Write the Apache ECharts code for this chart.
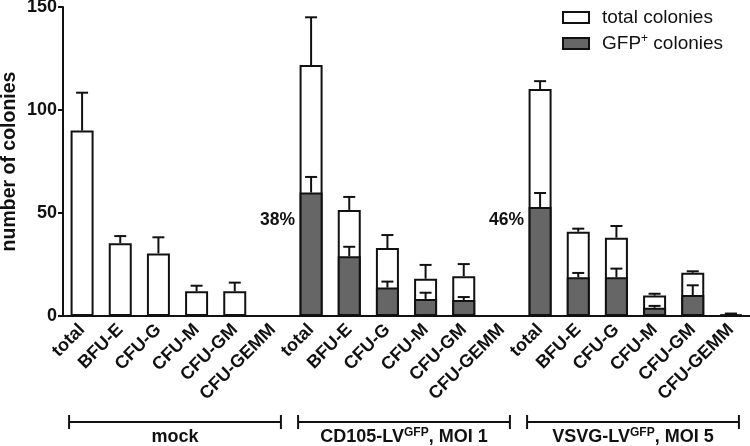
<!DOCTYPE html>
<html>
<head>
<meta charset="utf-8">
<script src="https://cdn.jsdelivr.net/npm/echarts@6/dist/echarts.min.js"></script>
<style>
html,body{margin:0;padding:0;background:#fff;}
#chart{width:750px;height:446px;}
</style>
</head>
<body>
<div id="chart"></div>
<script>
// ---- data ----
const groups = [
  { name: 'mock', sup: '', tail: '' },
  { name: 'CD105-LV', sup: 'GFP', tail: ', MOI 1' },
  { name: 'VSVG-LV', sup: 'GFP', tail: ', MOI 5' }
];
const colonyTypes = ['total', 'BFU-E', 'CFU-G', 'CFU-M', 'CFU-GM', 'CFU-GEMM'];
const totalMean = [90, 35.3, 30.4, 12, 12, 0,   121.8, 51.5, 33, 18.1, 19.3, 0,   110.2, 40.9, 38, 9.9, 21, 0.8];
const totalErr  = [18.4, 3.5, 7.8, 2.7, 4.2, 0, 23.2, 6.3, 6.3, 6.7, 5.9, 0,     3.8, 1.5, 5.7, 0.9, 0.7, 0.4];
const gfpMean   = [null, null, null, null, null, null, 59.9, 29, 13.8, 8.3, 7.8, 0, 52.9, 18.8, 18.8, 4, 10.2, 0.5];
const gfpErr    = [null, null, null, null, null, null, 7.6, 4.6, 2.9, 3, 1.4, 0,  6.8, 2.1, 4.2, 0.9, 4.7, 0.3];
const pctLabels = ['', '38%', '46%'];
const pctLabelY = [0, 46.5, 46.5];
const yTicks = [0, 50, 100, 150];

// ---- build ----
const cats = [];
groups.forEach((g, gi) => colonyTypes.forEach(t => cats.push(gi + '|' + t)));
const FONT = 'Arial, "Liberation Sans", Helvetica, sans-serif';

function errData(mean, err) {
  return mean.map((m, i) => [i, m, err[i]]);
}
function errRender(params, api) {
  const m = api.value(1), e = api.value(2);
  if (m == null || isNaN(m) || !e) return null;
  const x = api.value(0);
  const p0 = api.coord([x, m]);
  const p1 = api.coord([x, m + e]);
  const cap = 6;
  const st = { stroke: '#111', lineWidth: 2 };
  return {
    type: 'group',
    children: [
      { type: 'line', shape: { x1: p0[0], y1: p0[1], x2: p1[0], y2: p1[1] }, style: st },
      { type: 'line', shape: { x1: p1[0] - cap, y1: p1[1], x2: p1[0] + cap, y2: p1[1] }, style: st }
    ]
  };
}

const chart = echarts.init(document.getElementById('chart'), null, { renderer: 'canvas' });
const option = {
  animation: false,
  backgroundColor: '#fff',
  textStyle: { fontFamily: FONT },
  grid: { left: 63, right: 0, top: 7, bottom: 130, containLabel: false, outerBoundsMode: 'none' },
  legend: {
    orient: 'vertical',
    left: 557,
    top: 3,
    itemWidth: 26,
    itemHeight: 11,
    itemGap: 6,
    icon: 'rect',
    data: ['total colonies', 'GFP+ colonies'],
    itemStyle: { borderColor: '#111', borderWidth: 2 },
    textStyle: {
      fontSize: 19, color: '#111', fontFamily: FONT, padding: [0, 0, 0, 8],
      rich: {
        a: { fontSize: 19, color: '#111', fontFamily: FONT },
        s: { fontSize: 12, color: '#111', fontFamily: FONT, padding: [0, 0, 9, 0] }
      }
    },
    formatter: function (n) {
      if (n === 'GFP+ colonies') return '{a|GFP}{s|+}{a| colonies}';
      return '{a|' + n + '}';
    }
  },
  xAxis: {
    type: 'category',
    data: cats,
    axisLine: { lineStyle: { color: '#111', width: 2 } },
    axisTick: { alignWithLabel: true, length: 8, lineStyle: { color: '#111', width: 2 } },
    axisLabel: {
      rotate: 45, margin: 11, interval: 0,
      fontSize: 18, fontWeight: 'bold', color: '#111', fontFamily: FONT,
      formatter: v => v.split('|')[1]
    },
    splitLine: { show: false }
  },
  yAxis: {
    type: 'value',
    min: 0, max: 150, interval: 50,
    name: 'number of colonies',
    nameLocation: 'middle',
    nameGap: 43,
    nameMoveOverlap: false,
    nameTextStyle: { fontSize: 19.5, fontWeight: 'bold', color: '#111', fontFamily: FONT },
    axisLine: { show: true, lineStyle: { color: '#111', width: 2 } },
    axisTick: { show: true, length: 5, lineStyle: { color: '#111', width: 2 } },
    axisLabel: {
      margin: 6, fontSize: 18, fontWeight: 'bold', color: '#111', fontFamily: FONT,
      formatter: v => yTicks.indexOf(v) >= 0 ? String(v) : ''
    },
    splitLine: { show: false }
  },
  series: [
    {
      name: 'total colonies', type: 'bar', data: totalMean, barWidth: 23, barGap: '-100%',
      itemStyle: { color: '#fff', borderColor: '#111', borderWidth: 2 }, z: 2
    },
    {
      name: 'GFP+ colonies', type: 'bar', data: gfpMean, barWidth: 23, barGap: '-100%',
      itemStyle: { color: '#666', borderColor: '#111', borderWidth: 2 }, z: 3
    },
    {
      type: 'custom', renderItem: errRender, data: errData(totalMean, totalErr),
      encode: { x: 0, y: 1 }, z: 4, silent: true
    },
    {
      type: 'custom', renderItem: errRender, data: errData(gfpMean, gfpErr),
      encode: { x: 0, y: 1 }, z: 5, silent: true
    }
  ]
};
chart.setOption(option);

// annotations positioned through the chart's own scales
const gfx = [];
const n = colonyTypes.length;
const bracketY = 422;
groups.forEach((g, gi) => {
  const xa = chart.convertToPixel({ xAxisIndex: 0 }, cats[gi * n]);
  const xb = chart.convertToPixel({ xAxisIndex: 0 }, cats[gi * n + n - 1]);
  const x0 = xa - 13, x1 = Math.min(xb + 8, 746);
  const st = { stroke: '#111', lineWidth: 2 };
  gfx.push({ type: 'line', shape: { x1: x0, y1: bracketY, x2: x1, y2: bracketY }, style: st });
  gfx.push({ type: 'line', shape: { x1: x0, y1: bracketY - 7, x2: x0, y2: bracketY + 7 }, style: st });
  gfx.push({ type: 'line', shape: { x1: x1, y1: bracketY - 7, x2: x1, y2: bracketY + 7 }, style: st });
  let txt = '{b|' + g.name + '}';
  if (g.sup) txt += '{s|' + g.sup + '}';
  if (g.tail) txt += '{b|' + g.tail + '}';
  gfx.push({
    type: 'text',
    x: (x0 + x1) / 2, y: 437,
    style: {
      text: txt, align: 'center', verticalAlign: 'middle',
      rich: {
        b: { fontSize: 18, fontWeight: 'bold', fill: '#111', fontFamily: FONT },
        s: { fontSize: 12, fontWeight: 'bold', fill: '#111', fontFamily: FONT, padding: [0, 0, 9, 0] }
      }
    }
  });
  if (pctLabels[gi]) {
    const p = chart.convertToPixel({ xAxisIndex: 0, yAxisIndex: 0 }, [cats[gi * n], pctLabelY[gi]]);
    gfx.push({
      type: 'text', x: p[0] - 16, y: p[1],
      style: { text: pctLabels[gi], align: 'right', verticalAlign: 'middle',
        fontSize: 17.5, fontWeight: 'bold', fill: '#111', fontFamily: FONT }
    });
  }
});
chart.setOption({ graphic: gfx });
</script>
</body>
</html>
